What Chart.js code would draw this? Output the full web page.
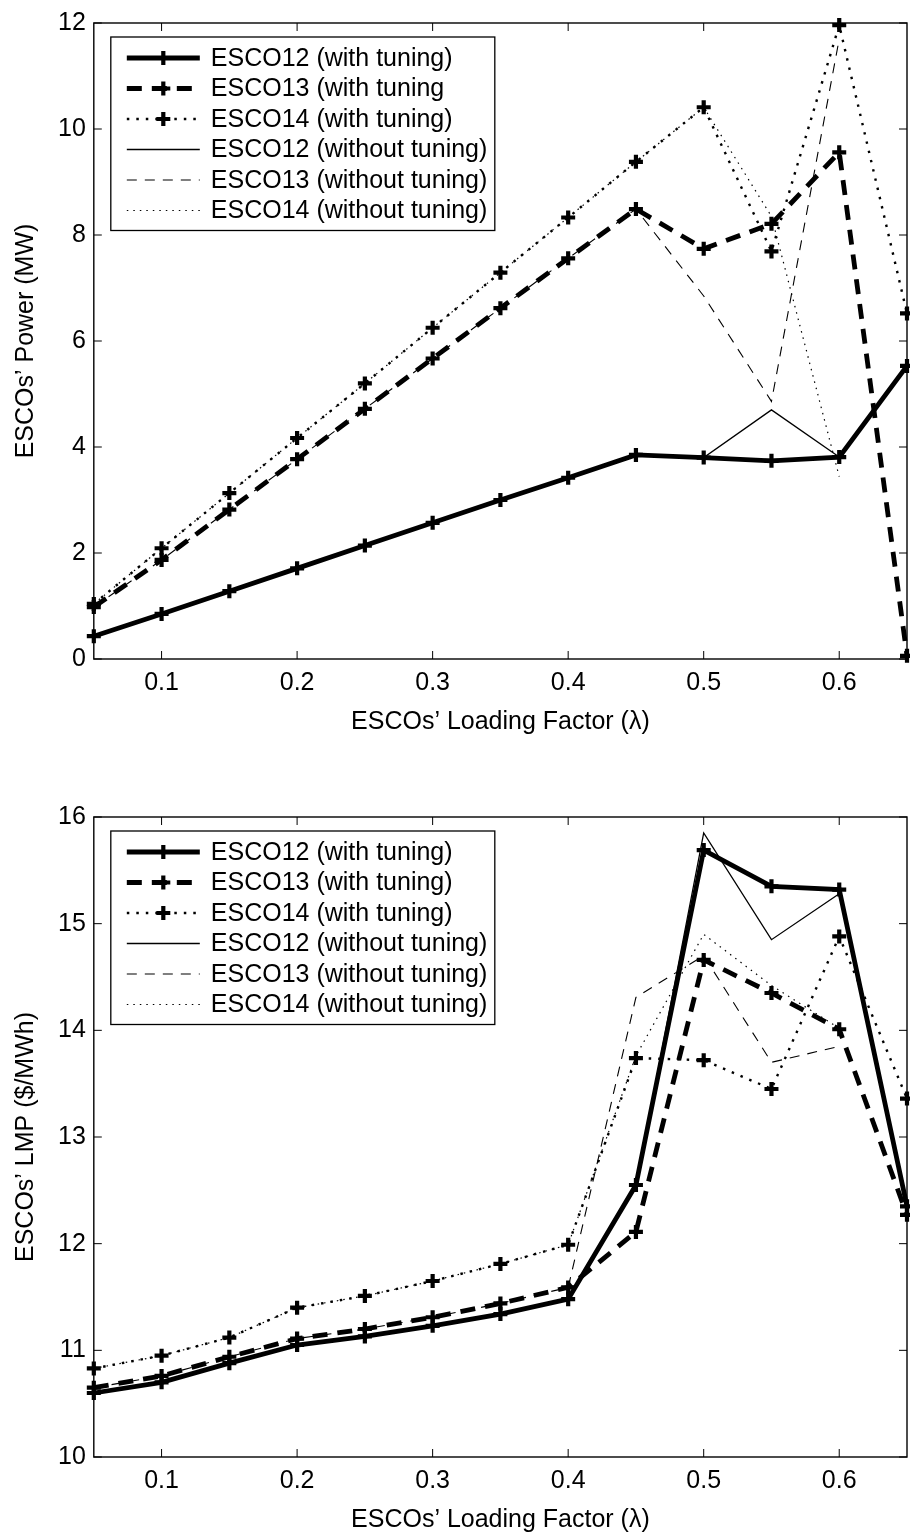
<!DOCTYPE html>
<html>
<head>
<meta charset="utf-8">
<script src="https://cdn.jsdelivr.net/npm/chart.js@4.4.0/dist/chart.umd.min.js"></script>
<style>
    html, body { margin: 0; padding: 0; background: #fff; }
    .panel { position: relative; width: 910px; }
</style>
</head>
<body>
<div class="panel" style="height:760px"><canvas id="powerChart"></canvas></div>
<div class="panel" style="height:775px"><canvas id="lmpChart"></canvas></div>
<script>
// Loading factor (x) values and tick labels
const lambdas = [0.05, 0.10, 0.15, 0.20, 0.25, 0.30, 0.35, 0.40, 0.45, 0.50, 0.55, 0.60, 0.65];
const xTicks = [0.1, 0.2, 0.3, 0.4, 0.5, 0.6];
const powerTicks = [0, 2, 4, 6, 8, 10, 12];
const lmpTicks = [10, 11, 12, 13, 14, 15, 16];

const powerNames = ['ESCO12 (with tuning)', 'ESCO13 (with tuning', 'ESCO14 (with tuning)',
    'ESCO12 (without tuning)', 'ESCO13 (without tuning)', 'ESCO14 (without tuning)'];
const lmpNames = ['ESCO12 (with tuning)', 'ESCO13 (with tuning)', 'ESCO14 (with tuning)',
    'ESCO12 (without tuning)', 'ESCO13 (without tuning)', 'ESCO14 (without tuning)'];

// ESCOs' power (MW)
const esco12PowerTuned = [0.43, 0.85, 1.28, 1.71, 2.14, 2.57, 3.00, 3.42, 3.85, 3.80, 3.74, 3.81, 5.53];
const esco13PowerTuned = [0.98, 1.87, 2.82, 3.77, 4.72, 5.67, 6.62, 7.56, 8.49, 7.74, 8.21, 9.56, 0.06];
const esco14PowerTuned = [1.04, 2.09, 3.13, 4.17, 5.20, 6.25, 7.29, 8.33, 9.38, 10.41, 7.69, 11.96, 6.52];
const esco12PowerBase  = [0.43, 0.85, 1.28, 1.71, 2.14, 2.57, 3.00, 3.42, 3.85, 3.80, 4.70, 3.81, null];
const esco13PowerBase  = [0.98, 1.87, 2.82, 3.77, 4.72, 5.67, 6.62, 7.56, 8.49, 6.85, 4.86, 11.70, null];
const esco14PowerBase  = [1.04, 2.09, 3.13, 4.17, 5.20, 6.25, 7.29, 8.33, 9.38, 10.41, 8.35, 3.44, null];

// ESCOs' LMP ($/MWh)
const esco12LmpTuned = [10.60, 10.70, 10.88, 11.05, 11.13, 11.23, 11.34, 11.48, 12.55, 15.69, 15.35, 15.32, 12.35];
const esco13LmpTuned = [10.65, 10.76, 10.94, 11.11, 11.20, 11.31, 11.44, 11.59, 12.11, 14.66, 14.35, 14.01, 12.27];
const esco14LmpTuned = [10.83, 10.95, 11.12, 11.40, 11.51, 11.65, 11.81, 11.99, 13.74, 13.72, 13.45, 14.88, 13.36];
const esco12LmpBase  = [10.60, 10.70, 10.88, 11.05, 11.13, 11.23, 11.34, 11.48, 12.55, 15.85, 14.85, 15.28, null];
const esco13LmpBase  = [10.65, 10.76, 10.94, 11.11, 11.20, 11.31, 11.44, 11.59, 14.31, 14.70, 13.70, 13.85, null];
const esco14LmpBase  = [10.83, 10.95, 11.12, 11.40, 11.51, 11.65, 11.81, 11.99, 13.76, 14.90, 14.42, 14.02, null];

const FONT = "'Liberation Sans', Arial, Helvetica, sans-serif";
Chart.defaults.font.family = FONT;
Chart.defaults.font.size = 25;
Chart.defaults.color = '#000';

// line looks: thick solid / dashed / dotted with '+' markers, then thin ones
const lineLooks = [
    { width: 4.8, dash: [], radius: 7 },
    { width: 4.8, dash: [15, 10], radius: 7 },
    { width: 2.4, dash: [2.5, 7], radius: 7 },
    { width: 1.3, dash: [], radius: 0 },
    { width: 1.1, dash: [10, 8], radius: 0 },
    { width: 1.2, dash: [1.5, 5], radius: 0 }
];

function buildDatasets(names, seriesList) {
    return seriesList.map((vals, i) => ({
        label: names[i],
        data: lambdas.map((x, j) => ({ x: x, y: vals[j] })),
        borderColor: '#000',
        backgroundColor: '#000',
        borderWidth: lineLooks[i].width,
        borderDash: lineLooks[i].dash,
        pointStyle: 'cross',
        pointRadius: lineLooks[i].radius,
        pointBorderWidth: 4.2,
        pointHoverRadius: 0,
        tension: 0,
        fill: false,
        clip: false
    }));
}

// MATLAB style box with inward ticks on all four sides
const boxFrame = {
    id: 'boxFrame',
    beforeDatasetsDraw(chart) {
        const { ctx, chartArea: a, scales } = chart;
        const len = 8;
        ctx.save();
        ctx.strokeStyle = '#000';
        ctx.lineWidth = 1.4;
        ctx.strokeRect(a.left, a.top, a.right - a.left, a.bottom - a.top);
        ctx.lineWidth = 1;
        ctx.beginPath();
        scales.x.ticks.forEach(t => {
            const px = scales.x.getPixelForValue(t.value);
            ctx.moveTo(px, a.bottom); ctx.lineTo(px, a.bottom - len);
            ctx.moveTo(px, a.top); ctx.lineTo(px, a.top + len);
        });
        scales.y.ticks.forEach(t => {
            const py = scales.y.getPixelForValue(t.value);
            ctx.moveTo(a.left, py); ctx.lineTo(a.left + len, py);
            ctx.moveTo(a.right, py); ctx.lineTo(a.right - len, py);
        });
        ctx.stroke();
        ctx.restore();
    }
};

// Legend box in the top-left corner of the plot, with line samples
const lineLegend = {
    id: 'lineLegend',
    afterDraw(chart) {
        const { ctx, chartArea: a } = chart;
        const left = a.left + 17, top = a.top + 14;
        const w = 384, rowH = 30.5, firstRow = 21;
        const h = firstRow + rowH * 5 + 20;
        ctx.save();
        ctx.fillStyle = '#fff';
        ctx.fillRect(left, top, w, h);
        ctx.strokeStyle = '#000';
        ctx.lineWidth = 1.3;
        ctx.strokeRect(left, top, w, h);
        chart.data.datasets.forEach((ds, i) => {
            const y = top + firstRow + i * rowH;
            const x0 = left + 16, x1 = left + 89;
            ctx.save();
            ctx.lineWidth = ds.borderWidth;
            ctx.setLineDash(ds.borderDash);
            ctx.beginPath();
            ctx.moveTo(x0, y);
            ctx.lineTo(x1, y);
            ctx.stroke();
            ctx.restore();
            if (ds.pointRadius > 0) {
                ctx.save();
                ctx.lineWidth = ds.pointBorderWidth;
                ctx.strokeStyle = '#000';
                Chart.helpers.drawPoint(ctx, { pointStyle: 'cross', radius: ds.pointRadius, borderWidth: ds.pointBorderWidth }, (x0 + x1) / 2, y);
                ctx.restore();
            }
            ctx.fillStyle = '#000';
            ctx.font = '25px ' + FONT;
            ctx.textBaseline = 'middle';
            ctx.textAlign = 'left';
            ctx.fillText(ds.label, left + 100, y + 1);
        });
        ctx.restore();
    }
};

function makeChart(id, datasets, yMin, yMax, yTicks, yTitle, pad) {
    const ctx = document.getElementById(id);
    return new Chart(ctx, {
        type: 'line',
        data: { datasets: datasets },
        plugins: [boxFrame, lineLegend],
        options: {
            responsive: true,
            maintainAspectRatio: false,
            animation: false,
            events: [],
            layout: { padding: pad, autoPadding: false },
            plugins: { legend: { display: false }, tooltip: { enabled: false } },
            scales: {
                x: {
                    type: 'linear',
                    min: 0.05,
                    max: 0.65,
                    afterBuildTicks: scale => { scale.ticks = xTicks.map(v => ({ value: v })); },
                    grid: { display: false, drawTicks: false },
                    border: { display: false },
                    ticks: { padding: 9, callback: v => v.toFixed(1), maxRotation: 0, autoSkip: false },
                    title: { display: true, text: 'ESCOs’ Loading Factor (λ)', padding: { top: 0, bottom: 0 } }
                },
                y: {
                    type: 'linear',
                    min: yMin,
                    max: yMax,
                    afterBuildTicks: scale => { scale.ticks = yTicks.map(v => ({ value: v })); },
                    grid: { display: false, drawTicks: false },
                    border: { display: false },
                    ticks: { padding: 8, callback: v => String(v), autoSkip: false },
                    title: { display: true, text: yTitle, padding: { top: 7, bottom: 9 } }
                }
            }
        }
    });
}

makeChart('powerChart',
    buildDatasets(powerNames, [esco12PowerTuned, esco13PowerTuned, esco14PowerTuned,
        esco12PowerBase, esco13PowerBase, esco14PowerBase]),
    0, 12, powerTicks, 'ESCOs’ Power (MW)', { left: 4, right: 3, top: 18, bottom: 23 });

makeChart('lmpChart',
    buildDatasets(lmpNames, [esco12LmpTuned, esco13LmpTuned, esco14LmpTuned,
        esco12LmpBase, esco13LmpBase, esco14LmpBase]),
    10, 16, lmpTicks, 'ESCOs’ LMP ($/MWh)', { left: 4, right: 3, top: 57, bottom: 0 });
</script>
</body>
</html>
